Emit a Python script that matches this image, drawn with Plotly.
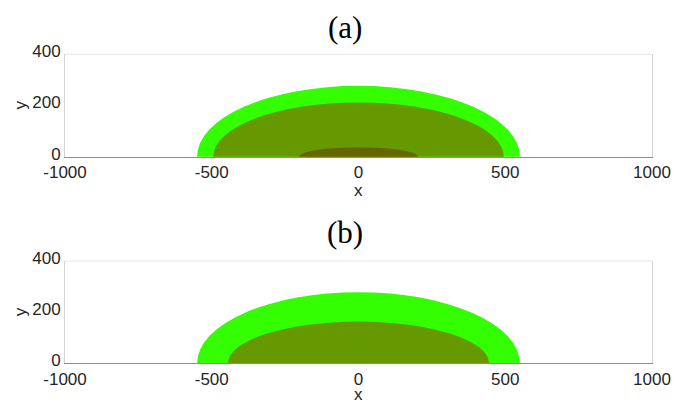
import plotly.graph_objects as go

# Data: semi-ellipse regions (half-width along x, height along y)
panels = ["(a)", "(b)"]
colors = ["#33ff00", "#669900", "#666600"]
half_width_a = [550, 495, 202]
height_a = [277, 212, 37]
half_width_b = [550, 445]
height_b = [278, 163]

x_ticks = [-1000, -500, 0, 500, 1000]
x_tick_labels = ["-1000", "-500", "0", "500", "1000"]
y_ticks = [0, 200, 400]
y_tick_labels = ["0", "200", "400"]

W, H = 674, 403
px_left, px_right = 65, 652
panel_px = [(54.3, 156.7), (261, 363.3)]  # top, bottom in pixels

fig = go.Figure()

def ydom(top, bottom):
    return [1 - bottom / H, 1 - top / H]

xdom = [px_left / W, px_right / W]

tick_font = dict(family="Liberation Sans, Arial, sans-serif", size=17, color="#262626")
label_font = dict(family="Liberation Sans, Arial, sans-serif", size=17, color="#262626")

for i, (hw, hh) in enumerate([(half_width_a, height_a), (half_width_b, height_b)]):
    xa = "x" if i == 0 else "x2"
    ya = "y" if i == 0 else "y2"
    for j in range(len(hw)):
        fig.add_shape(type="circle", xref=xa, yref=ya,
                      x0=-hw[j], x1=hw[j], y0=-hh[j], y1=hh[j],
                      fillcolor=colors[j], line=dict(width=0), layer="below")
    fig.add_trace(go.Scatter(x=[None], y=[None], xaxis=xa, yaxis=ya, showlegend=False,
                             hoverinfo="skip"))
    fig.add_shape(type="line", xref=f"{xa} domain", yref=f"{ya} domain",
                  x0=0, x1=1, y0=1, y1=1, line=dict(color="#e6e6e6", width=1))

axis_common_x = dict(range=[-1000, 1000], tickvals=x_ticks, ticktext=x_tick_labels,
                     ticks="", automargin=False,
                     showline=True, linecolor="#8c8c8c", linewidth=1,
                     showgrid=False, zeroline=False, tickfont=tick_font, domain=xdom,
                     fixedrange=True)
axis_common_y = dict(range=[0, 400], tickvals=y_ticks, ticktext=y_tick_labels, ticks="",
                     showline=True, automargin=False, ticklabelshift=-3,
                     linecolor="#d4d4d4", linewidth=1, mirror=True, showgrid=False,
                     zeroline=False, tickfont=tick_font, fixedrange=True)

fig.update_layout(
    width=W, height=H,
    margin=dict(l=0, r=0, t=0, b=0, autoexpand=False),
    paper_bgcolor="white", plot_bgcolor="white",
    xaxis=dict(**axis_common_x, anchor="y"),
    yaxis=dict(**axis_common_y, domain=ydom(*panel_px[0]), anchor="x"),
    xaxis2=dict(**axis_common_x, anchor="y2"),
    yaxis2=dict(**axis_common_y, domain=ydom(*panel_px[1]), anchor="x2"),
)

title_y_px = [27.5, 232]
xlabel_y_px = [190, 394]
for i, t in enumerate(panels):
    fig.add_annotation(text=t, xref="paper", yref="paper",
                       x=345 / W, y=1 - title_y_px[i] / H, showarrow=False,
                       xanchor="center", yanchor="middle",
                       font=dict(family="Liberation Serif, DejaVu Serif, serif", size=31, color="black"))
    fig.add_annotation(text="x", xref="paper", yref="paper",
                       x=(px_left + px_right) / 2 / W, y=1 - xlabel_y_px[i] / H,
                       showarrow=False, xanchor="center", yanchor="middle", font=label_font)
    top, bottom = panel_px[i]
    fig.add_annotation(text="y", xref="paper", yref="paper", textangle=-90,
                       x=20 / W, y=1 - (top + bottom) / 2 / H,
                       showarrow=False, xanchor="center", yanchor="middle", font=label_font)

fig.write_html("out.html", config={"displayModeBar": False},
               post_script="document.body.style.margin='0';document.body.style.overflow='hidden';")
